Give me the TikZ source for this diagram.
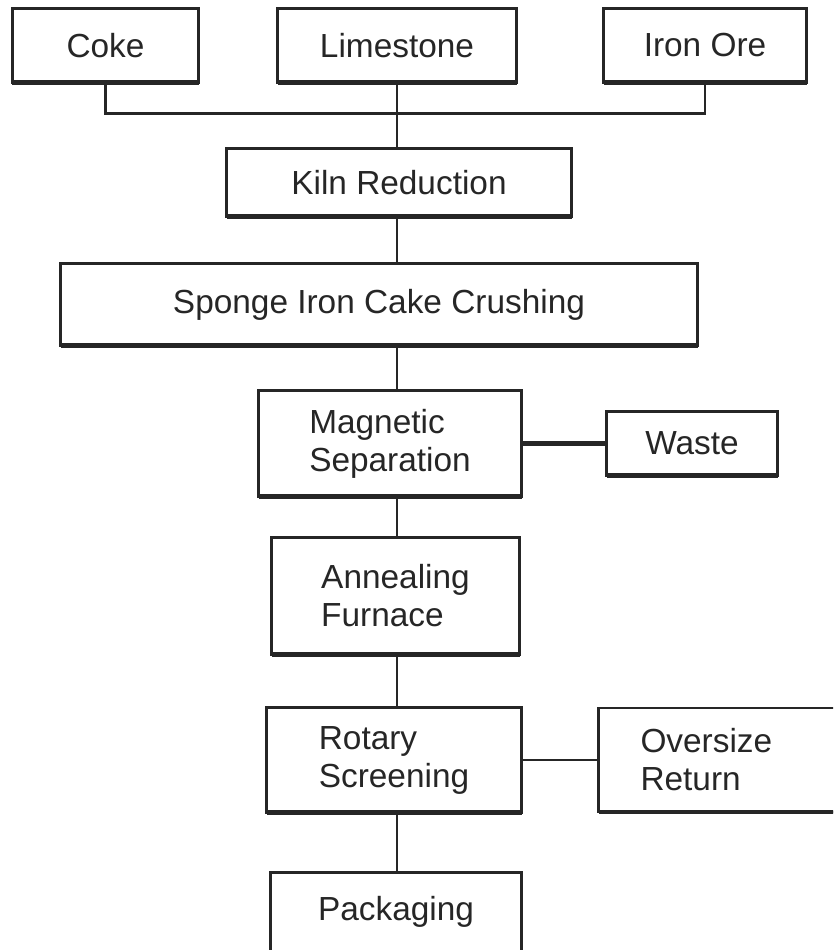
\documentclass[tikz,border=0pt]{standalone}
\usepackage{fontspec}
\setmainfont{Liberation Sans}
\usetikzlibrary{positioning}
\tikzset{
    %Define style for boxes
    boks/.style={
           rectangle,
           draw=black!85, line width=0.8pt,
           font=\fontsize{9.5}{10.8}\selectfont,
           text=black!85,
           inner sep=0pt,
           outer sep=0pt,
           align=left},
    % Define line style
    lin/.style={
           draw=black!85,
           line width=0.6pt},
    % Heavy bottom edge of the boxes
    bund/.style={
           draw=black!85,
           line width=1.3pt}
}
\begin{document}
\begin{tikzpicture}
\useasboundingbox (0,0) rectangle (8.33,-9.5);
\clip (0,0) rectangle (8.33,-9.5);

 %nodes
\node[boks, minimum width=1.86cm, minimum height=0.74cm] (coke) at (1.055,-0.455) {Coke};
\node[boks, minimum width=2.39cm, minimum height=0.74cm, right=0.79cm of coke] (lime) {Limestone};
\node[boks, minimum width=2.03cm, minimum height=0.74cm, right=0.87cm of lime] (iron) {Iron Ore};
\node[boks, minimum width=3.45cm, minimum height=0.68cm, below=0.66cm of lime, xshift=0.02cm] (kiln) {Kiln Reduction};
\node[boks, minimum width=6.37cm, minimum height=0.82cm, below=0.47cm of kiln, xshift=-0.20cm] (sponge) {Sponge Iron Cake Crushing};
\node[boks, minimum width=2.63cm, minimum height=1.06cm, below=0.45cm of sponge, xshift=0.11cm] (mag) {Magnetic\\Separation};
\node[boks, minimum width=1.71cm, minimum height=0.64cm, right=0.85cm of mag] (waste) {Waste};
\node[boks, minimum width=2.48cm, minimum height=1.17cm, below=0.41cm of mag, xshift=0.055cm] (anneal) {Annealing\\Furnace};
\node[boks, minimum width=2.55cm, minimum height=1.05cm, below=0.53cm of anneal, xshift=-0.015cm] (rot) {Rotary\\Screening};
\node[boks, text width=1.8cm, inner xsep=0.42cm, minimum height=1.04cm, right=0.77cm of rot] (over) {Oversize\\Return};
\node[boks, minimum width=2.51cm, minimum height=1.6cm, below=0.60cm of rot, xshift=0.02cm] (pack) {};
\node[font=\fontsize{9.5}{10.8}\selectfont, text=black!85] (packtxt) at ([yshift=-0.39cm]pack.north) {Packaging};

\foreach \n in {coke,lime,iron,kiln,sponge,mag,waste,anneal,rot,over}
    \draw[bund] (\n.south west) -- (\n.south east);

 %connectors
\draw[lin] (coke.south) -- ++(0,-0.31) -| (iron.south);
\draw[lin] (lime.south) -- (lime.south |- kiln.north);
\draw[lin] (kiln.south -| lime.south) -- (sponge.north -| lime.south);
\draw[lin] (sponge.south -| lime.south) -- (mag.north -| lime.south);
\draw[lin, line width=1.2pt] (mag.east) -- (waste.west);
\draw[lin] (mag.south -| lime.south) -- (anneal.north -| lime.south);
\draw[lin] (anneal.south -| lime.south) -- (rot.north -| lime.south);
\draw[lin] (rot.east) -- (over.west);
\draw[lin] (rot.south -| lime.south) -- (pack.north -| lime.south);

\end{tikzpicture}
\end{document}
